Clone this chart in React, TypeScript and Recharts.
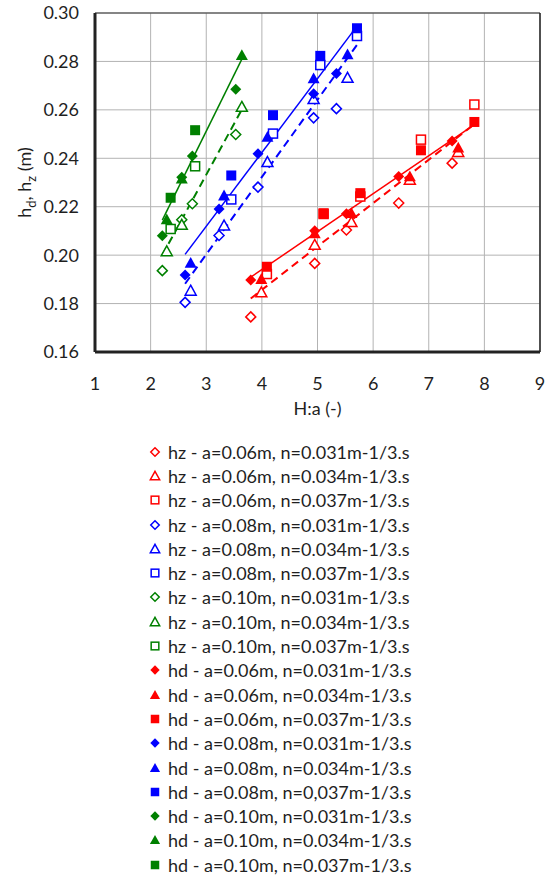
import {
  CartesianGrid,
  Label,
  ReferenceLine,
  Scatter,
  ScatterChart,
  XAxis,
  YAxis,
} from 'recharts'

// a = 0.06 m
const xA06N031 = [3.8, 4.95, 5.52, 6.46, 7.42]
const hdA06N031 = [0.1897, 0.2101, 0.2171, 0.2325, 0.2471]
const hzA06N031 = [0.1745, 0.1966, 0.2104, 0.2215, 0.238]
const xA06N034 = [3.99, 4.95, 5.61, 6.66, 7.53]
const hdA06N034 = [0.1901, 0.209, 0.2173, 0.2325, 0.2444]
const hzA06N034 = [0.1846, 0.2042, 0.2136, 0.2311, 0.2426]
const xA06N037 = [4.09, 5.11, 5.77, 6.86, 7.82]
const hdA06N037 = [0.1952, 0.2173, 0.2256, 0.2433, 0.255]
const hzA06N037 = [0.1922, 0.217, 0.2242, 0.2477, 0.2622]

// a = 0.08 m
const xA08N031 = [2.62, 3.23, 3.93, 4.93, 5.34]
const hdA08N031 = [0.1918, 0.2191, 0.2419, 0.2667, 0.275]
const hzA08N031 = [0.1805, 0.2081, 0.2281, 0.2567, 0.2605]
const xA08N034 = [2.72, 3.32, 4.1, 4.93, 5.54]
const hdA08N034 = [0.1968, 0.2246, 0.2488, 0.273, 0.2829]
const hzA08N034 = [0.1853, 0.2122, 0.2384, 0.2644, 0.2732]
const xA08N037 = [3.45, 4.2, 5.05, 5.71]
const hdA08N037 = [0.2329, 0.2578, 0.2823, 0.2937]
const hzA08N037 = [0.223, 0.2502, 0.2785, 0.2905]

// a = 0.10 m
const xA10N031 = [2.21, 2.56, 2.75, 3.53]
const hdA10N031 = [0.208, 0.2322, 0.2409, 0.2685]
const hzA10N031 = [0.1936, 0.2146, 0.2212, 0.2498]
const xA10N034 = [2.29, 2.56, 3.64]
const hdA10N034 = [0.2147, 0.2316, 0.2826]
const hzA10N034 = [0.2016, 0.2125, 0.2612]
const xA10N037 = [2.36, 2.8]
const hdA10N037 = [0.2237, 0.2516]
const hzA10N037 = [0.2108, 0.2367]

const xTicks = [1, 2, 3, 4, 5, 6, 7, 8, 9]
const yTicks = [0.16, 0.18, 0.2, 0.22, 0.24, 0.26, 0.28, 0.3]

const RED = '#ff0000'
const BLUE = '#0000ff'
const GREEN = '#008000'
const FONT = 'Lato, "Open Sans", sans-serif'
const TEXT = '#1f1f1f'

type Kind = 'diamond' | 'triangle' | 'square'

const pts = (xs: number[], ys: number[]) => xs.map((x, i) => ({ x, y: ys[i] }))

// nHd is how the hd legend entry writes n (one entry uses a comma)
const groups = [
  { a: '0.06', color: RED, sets: [
    { n: '0.031', nHd: '0.031', kind: 'diamond' as Kind, x: xA06N031, hd: hdA06N031, hz: hzA06N031 },
    { n: '0.034', nHd: '0.034', kind: 'triangle' as Kind, x: xA06N034, hd: hdA06N034, hz: hzA06N034 },
    { n: '0.037', nHd: '0.037', kind: 'square' as Kind, x: xA06N037, hd: hdA06N037, hz: hzA06N037 },
  ] },
  { a: '0.08', color: BLUE, sets: [
    { n: '0.031', nHd: '0.031', kind: 'diamond' as Kind, x: xA08N031, hd: hdA08N031, hz: hzA08N031 },
    { n: '0.034', nHd: '0.034', kind: 'triangle' as Kind, x: xA08N034, hd: hdA08N034, hz: hzA08N034 },
    { n: '0.037', nHd: '0,037', kind: 'square' as Kind, x: xA08N037, hd: hdA08N037, hz: hzA08N037 },
  ] },
  { a: '0.10', color: GREEN, sets: [
    { n: '0.031', nHd: '0.031', kind: 'diamond' as Kind, x: xA10N031, hd: hdA10N031, hz: hzA10N031 },
    { n: '0.034', nHd: '0.034', kind: 'triangle' as Kind, x: xA10N034, hd: hdA10N034, hz: hzA10N034 },
    { n: '0.037', nHd: '0.037', kind: 'square' as Kind, x: xA10N037, hd: hdA10N037, hz: hzA10N037 },
  ] },
]

// linear trend over all points of one a-group
function trend(xs: number[], ys: number[]) {
  const m = xs.length
  const mx = xs.reduce((s, v) => s + v, 0) / m
  const my = ys.reduce((s, v) => s + v, 0) / m
  let sxy = 0
  let sxx = 0
  xs.forEach((x, i) => {
    sxy += (x - mx) * (ys[i] - my)
    sxx += (x - mx) * (x - mx)
  })
  const k = sxy / sxx
  const x0 = Math.min(...xs)
  const x1 = Math.max(...xs)
  return [
    { x: x0, y: my + k * (x0 - mx) },
    { x: x1, y: my + k * (x1 - mx) },
  ]
}

function Mark({ cx, cy, kind, color, filled, s = 1 }: {
  cx: number; cy: number; kind: Kind; color: string; filled: boolean; s?: number
}) {
  const fill = filled ? color : '#fff'
  const sw = filled ? 0 : 1.5
  if (kind === 'diamond') {
    const r = (filled ? 5.5 : 5) * s
    return (
      <polygon
        points={`${cx},${cy - r} ${cx + r},${cy} ${cx},${cy + r} ${cx - r},${cy}`}
        fill={fill} stroke={color} strokeWidth={sw}
      />
    )
  }
  if (kind === 'triangle') {
    const w = (filled ? 6 : 5.5) * s
    return (
      <polygon
        points={`${cx},${cy - w} ${cx + w},${cy + w * 0.8} ${cx - w},${cy + w * 0.8}`}
        fill={fill} stroke={color} strokeWidth={sw}
      />
    )
  }
  const h = (filled ? 5 : 4.5) * s
  return (
    <rect x={cx - h} y={cy - h} width={2 * h} height={2 * h}
      fill={fill} stroke={color} strokeWidth={sw} />
  )
}

const legendRows = [
  ...groups.flatMap((g) => g.sets.map((st) => ({ ...st, color: g.color, a: g.a, filled: false }))),
  ...groups.flatMap((g) => g.sets.map((st) => ({ ...st, color: g.color, a: g.a, filled: true }))),
]

function YTitle({ viewBox }: any) {
  const x = 31
  const y = viewBox.y + viewBox.height / 2
  return (
    <text x={x} y={y} transform={`rotate(-90 ${x} ${y})`} textAnchor="middle"
      fontFamily={FONT} fontSize={18} fill={TEXT}>
      h<tspan fontSize={13} dy={5}>d</tspan>
      <tspan dy={-5}>, h</tspan>
      <tspan fontSize={13} dy={5}>z</tspan>
      <tspan dy={-5}> (m)</tspan>
    </text>
  )
}

export default function App() {
  return (
    <div style={{ position: 'absolute', left: 0, top: 0, width: 552, height: 879, background: '#fff' }}>
      <ScatterChart width={552} height={430} margin={{ top: 13, right: 12, bottom: 0, left: 0 }}>
        <CartesianGrid stroke="#b3b3b3" strokeWidth={1} />
        <XAxis
          type="number" dataKey="x" domain={[1, 9]} ticks={xTicks} height={78}
          tickLine={false} tickSize={0} tickMargin={25}
          axisLine={{ stroke: '#222', strokeWidth: 3 }}
          tick={{ fill: TEXT, fontSize: 18, fontFamily: FONT }}
          allowDataOverflow
        >
          <Label
            content={({ viewBox }: any) => (
              <text x={viewBox.x + viewBox.width / 2} y={viewBox.y + 63} textAnchor="middle"
                fontFamily={FONT} fontSize={18} fill={TEXT}>H:a (-)</text>
            )}
          />
        </XAxis>
        <YAxis
          type="number" dataKey="y" domain={[0.16, 0.3]} ticks={yTicks} width={95}
          tickLine={false} tickSize={0} tickMargin={16}
          tickFormatter={(v: number) => v.toFixed(2)}
          axisLine={{ stroke: '#222', strokeWidth: 3 }}
          tick={{ fill: TEXT, fontSize: 18, fontFamily: FONT }}
          allowDataOverflow
        >
          <Label content={YTitle} />
        </YAxis>
        <ReferenceLine y={0.3} stroke="#333" strokeWidth={1.2} />
        <ReferenceLine x={9} stroke="#222" strokeWidth={1.5} />

        {groups.map((g) => {
          const xs = g.sets.flatMap((st) => st.x)
          return [
            <ReferenceLine key={`hz-${g.a}`} segment={trend(xs, g.sets.flatMap((st) => st.hz))}
              stroke={g.color} strokeWidth={2} strokeDasharray="8 5" />,
            <ReferenceLine key={`hd-${g.a}`} segment={trend(xs, g.sets.flatMap((st) => st.hd))}
              stroke={g.color} strokeWidth={1.5} />,
          ]
        })}

        {legendRows.map((r, i) => (
          <Scatter
            key={i}
            data={pts(r.x, r.filled ? r.hd : r.hz)}
            isAnimationActive={false}
            shape={(p: any) => <Mark cx={p.cx} cy={p.cy} kind={r.kind} color={r.color} filled={r.filled} />}
          />
        ))}
      </ScatterChart>

      <div style={{ position: 'absolute', left: 146, top: 439.5, fontFamily: FONT, fontSize: 18, color: TEXT }}>
        {legendRows.map((r, i) => (
          <div key={i} style={{ height: 24.3, display: 'flex', alignItems: 'center', whiteSpace: 'nowrap' }}>
            <svg width={18} height={14} style={{ marginRight: 4 }}>
              <Mark cx={9} cy={7} kind={r.kind} color={r.color} filled={r.filled} s={0.85} />
            </svg>
            {`${r.filled ? 'hd' : 'hz'} - a=${r.a}m, n=${r.filled ? r.nHd : r.n}m-1/3.s`}
          </div>
        ))}
      </div>
    </div>
  )
}
